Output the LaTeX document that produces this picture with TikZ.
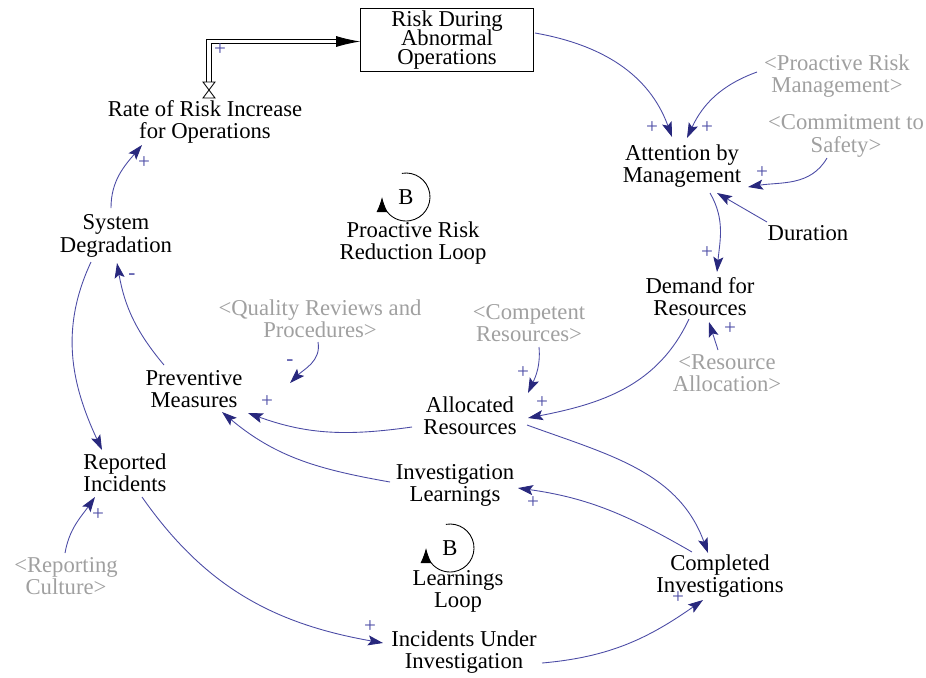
\documentclass[tikz,border=0pt]{standalone}
\usepackage{fontspec}
\setmainfont{Liberation Serif}
\usetikzlibrary{arrows.meta,calc}
\definecolor{linkblue}{RGB}{75,75,165}
\definecolor{tipblue}{RGB}{40,40,125}
\definecolor{shadowgray}{RGB}{160,160,160}
\newcommand\stockfont{\fontsize{12.9}{11}\selectfont\setlength{\lineskiplimit}{-5pt}}

\begin{document}
\begin{tikzpicture}[x=0.02cm,y=0.02cm,
  every node/.style={font=\fontsize{12.9}{12.6}\selectfont,align=center,inner sep=1pt},
  shadow/.style={text=shadowgray},
  stock/.style={draw,rectangle,minimum width=3.46cm,minimum height=1.14cm,font=\stockfont},
  link/.style={draw=linkblue,line width=0.5pt,-{Stealth[length=3mm,width=2mm,inset=0.6mm,color=tipblue]}},
  sign/.style={text=linkblue,font=\fontsize{12}{12}\selectfont},
  pipe/.style={draw,double,double distance=2pt,line width=0.5pt},
  fliptip/.style={draw,line width=0.5pt,-{Latex[length=4.8mm,width=2.2mm]}},
  loopline/.style={draw,line width=0.5pt,-{Latex[length=3mm,width=2.2mm]}}]
\useasboundingbox (0,0) rectangle (926,-677);

\node[stock] (risk) at (447,-40) {Risk During\\Abnormal\\Operations};
\node (rate) at (205,-122) {Rate of Risk Increase\\for Operations};
\node (att) at (682,-166) {Attention by\\Management};
\node[shadow] (prm) at (837,-76) {<Proactive Risk\\Management>};
\node[shadow] (cts) at (846,-136) {<Commitment to\\Safety>};
\node (dur) at (808,-233) {Duration};
\node (dem) at (700,-297) {Demand for\\Resources};
\node[shadow] (ra) at (727,-373) {<Resource\\Allocation>};
\node[shadow] (comp) at (529,-323) {<Competent\\Resources>};
\node (alloc) at (470,-416) {Allocated\\Resources};
\node[shadow] (qrp) at (320,-319) {<Quality Reviews and\\Procedures>};
\node (prev) at (194,-389) {Preventive\\Measures};
\node (sysd) at (116,-236) {System\\Degradation};
\node (rep) at (125,-473) {Reported\\Incidents};
\node[shadow] (rc) at (66,-576) {<Reporting\\Culture>};
\node (ilearn) at (455,-485) {Investigation\\Learnings};
\node (cinv) at (720,-576) {Completed\\Investigations};
\node (iui) at (464,-652) {Incidents Under\\Investigation};

\node (loopa) at (406,-197) {B};
\node (loopalabel) at (413,-243) {Proactive Risk\\Reduction Loop};
\node (loopb) at (450,-548) {B};
\node (loopblabel) at (458,-591) {Learnings\\Loop};
\draw[loopline] ($(loopa)+(100:24)$) arc[start angle=100,end angle=-180,radius=24];
\draw[loopline] ($(loopb)+(100:24)$) arc[start angle=100,end angle=-180,radius=24];

\coordinate (valve) at (209,-90);
\coordinate (pipeend) at ($(risk.west)+(-24,-1.5)$);
\draw[pipe] ($(valve)+(0,8)$) |- (pipeend);
\draw[fliptip] (pipeend) -- ($(risk.west)+(0,-1.5)$);
\draw[fill=white,line width=0.5pt] (valve) -- ++(-6,8) -- ++(12,0) -- cycle;
\draw[fill=white,line width=0.5pt] (valve) -- ++(-6,-8) -- ++(12,0) -- cycle;

\draw[link] ($(risk)+(88,7)$) to[out=-10,in=110] ($(att)+(-10,29)$);
\draw[link] ($(prm)+(-80,4)$) to[out=200,in=65] ($(att)+(5,28)$);
\draw[link] ($(cts)+(-19,-22)$) to[out=240,in=9] ($(att)+(66,-21)$);
\draw[link] ($(dur)+(-41,11)$) -- ($(att)+(35,-27)$);
\draw[link] ($(att)+(28,-27)$) to[out=-60,in=85] ($(dem)+(17,25)$);
\draw[link] ($(ra)+(-9,23)$) -- ($(dem)+(9,-25)$);
\draw[link] ($(dem)+(-11,-22)$) to[out=245,in=11] ($(alloc)+(58,-2)$);
\draw[link] ($(comp)+(10,-24)$) to[out=-85,in=65] ($(alloc)+(58,23)$);
\draw[link] ($(alloc)+(-58,-11)$) to[out=188,in=-20] ($(prev)+(54,-24)$);
\draw[link] ($(qrp)+(-2,-23)$) to[out=-80,in=45] ($(prev)+(96,6)$);
\draw[link] ($(prev)+(-30,24)$) to[out=130,in=-80] ($(sysd)+(1,-27)$);
\draw[link] ($(sysd)+(-5,28)$) to[out=90,in=230] ($(rate)+(-63,-23)$);
\draw[link] ($(sysd)+(-25,-26)$) to[out=245,in=115] ($(rep)+(-23,23)$);
\draw[link] ($(rc)+(-1,23)$) to[out=80,in=235] ($(rep)+(-30,-24)$);
\draw[link] ($(rep)+(17,-24)$) to[out=-55,in=170] ($(iui)+(-81,9)$);
\draw[link] ($(iui)+(78,-11)$) to[out=5,in=215] ($(cinv)+(-17,-24)$);
\draw[link] ($(alloc)+(57,-9)$) to[out=-20,in=110] ($(cinv)+(-12,23)$);
\draw[link] ($(cinv)+(-28,24)$) to[out=150,in=-8] ($(ilearn)+(63,-3)$);
\draw[link] ($(ilearn)+(-65,3)$) to[out=170,in=-40] ($(prev)+(28,-23)$);

\node[sign] (s1) at (220,-50) {+};
\node[sign] (s2) at (652,-128) {+};
\node[sign] (s3) at (707,-128) {+};
\node[sign] (s4) at (762,-173) {+};
\node[sign] (s5) at (707,-253) {+};
\node[sign] (s6) at (730,-329) {+};
\node[sign] (s7) at (542,-403) {+};
\node[sign] (s8) at (523,-373) {+};
\node[sign] (s9) at (267,-402) {+};
\node[sign] (s10) at (290,-363) {-};
\node[sign] (s11) at (132,-277) {-};
\node[sign] (s12) at (144,-163) {+};
\node[sign] (s13) at (98,-515) {+};
\node[sign] (s14) at (370,-627) {+};
\node[sign] (s15) at (678,-598) {+};
\node[sign] (s16) at (533,-503) {+};
\end{tikzpicture}
\end{document}
